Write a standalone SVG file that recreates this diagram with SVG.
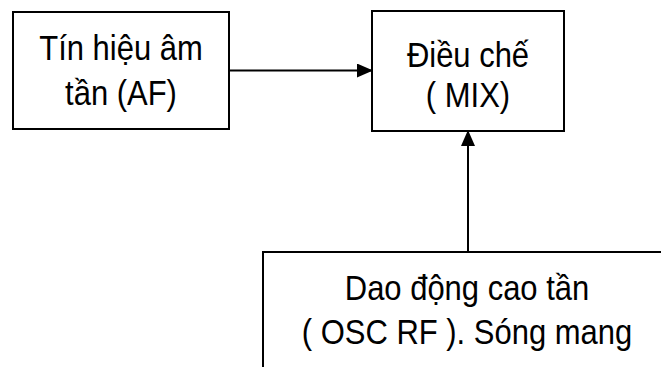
<svg xmlns="http://www.w3.org/2000/svg" width="661" height="367" viewBox="0 0 661 367">
<defs>
<style>
.box{fill:#fff;stroke:#000;stroke-width:2}
.t{font-family:"Liberation Sans",Arial,sans-serif;font-size:35px;fill:#000;text-anchor:middle}
.c{stroke:#000;stroke-width:2;fill:none}
</style>
<marker id="ah" markerWidth="16" markerHeight="14" refX="15" refY="7" orient="auto" markerUnits="userSpaceOnUse">
<path d="M0,0 L16,7 L0,14 Z" fill="#000"/>
</marker>
</defs>
<rect width="661" height="367" fill="#fff"/>
<g id="af">
<rect class="box" x="13" y="12" width="216" height="117"/>
<text class="t" transform="translate(121,60) scale(0.885,1)">Tín hiệu âm</text>
<text class="t" transform="translate(121,105) scale(0.885,1)">tần (AF)</text>
</g>
<g id="mix">
<rect class="box" x="372" y="11" width="192" height="120"/>
<text class="t" transform="translate(468,67) scale(0.885,1)">Điều chế</text>
<text class="t" transform="translate(468,107) scale(0.885,1)">( MIX)</text>
</g>
<g id="osc">
<rect class="box" x="263" y="252" width="420" height="140"/>
<text class="t" transform="translate(467,300) scale(0.885,1)">Dao động cao tần</text>
<text class="t" transform="translate(467,344) scale(0.885,1)">( OSC RF ). Sóng mang</text>
</g>
<g id="connectors">
<line class="c" x1="229" y1="70.5" x2="372" y2="70.5" marker-end="url(#ah)"/>
<line class="c" x1="468" y1="252" x2="468" y2="131" marker-end="url(#ah)"/>
</g>
</svg>
